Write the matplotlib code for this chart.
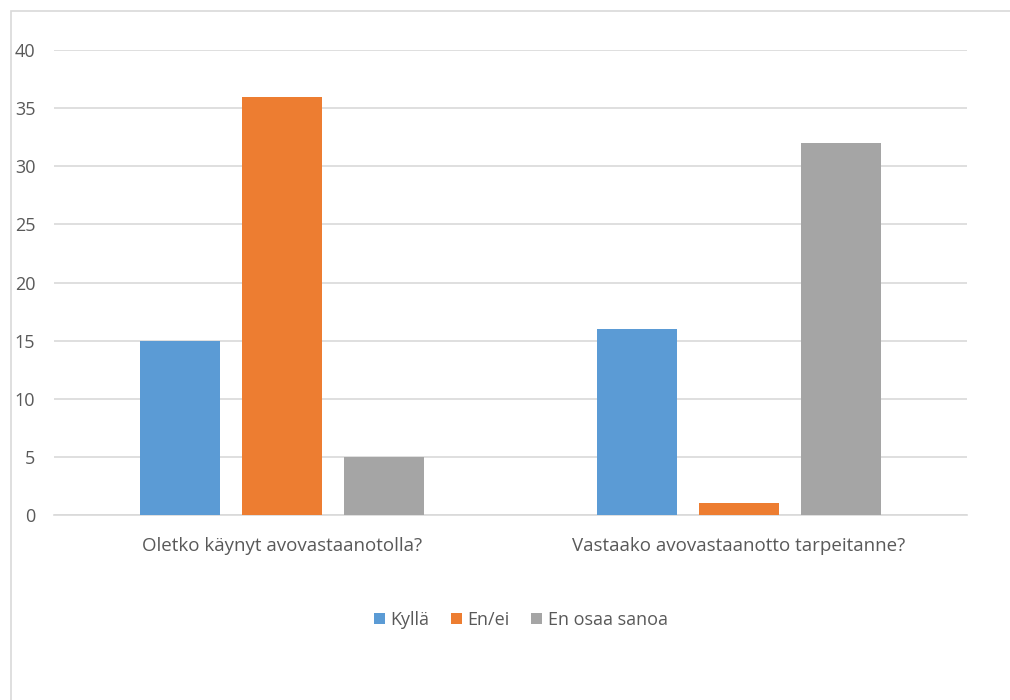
import matplotlib.pyplot as plt
import numpy as np
from matplotlib.patches import Rectangle

plt.rcParams['font.family'] = ['Open Sans', 'DejaVu Sans']

questions = ['Oletko käynyt avovastaanotolla?', 'Vastaako avovastaanotto tarpeitanne?']
answers = ['Kyllä', 'En/ei', 'En osaa sanoa']
counts = {
    'Kyllä': [15, 16],
    'En/ei': [36, 1],
    'En osaa sanoa': [5, 32],
}
colors = ['#5b9bd5', '#ed7d31', '#a5a5a5']
text_color = '#595959'
grid_color = '#d9d9d9'

fig = plt.figure(figsize=(10.1, 7), dpi=100)
ax = fig.add_axes([54 / 1010, 185 / 700, 913 / 1010, 465 / 700])

# chart frame, runs off the right and bottom edges
fig.patches.append(Rectangle((11 / 1010, -0.05), 1.1, (700 - 11) / 700 + 0.05,
                             transform=fig.transFigure, fill=False,
                             edgecolor=grid_color, linewidth=1.2))

x = np.arange(len(questions))
width = 0.175
offset = 0.2234
for i, (name, color) in enumerate(zip(answers, colors)):
    ax.bar(x + (i - 1) * offset, counts[name], width, color=color, label=name, zorder=3)

ax.set_xlim(-0.5, 1.5)
ax.set_ylim(0, 40)
ax.set_yticks(range(0, 41, 5))
ax.yaxis.grid(True, color=grid_color, linewidth=1.2, zorder=0)
ax.set_xticks(x)
ax.set_xticklabels(questions)
for side in ['top', 'right', 'left']:
    ax.spines[side].set_visible(False)
ax.spines['bottom'].set_color(grid_color)
ax.spines['bottom'].set_linewidth(1.2)
ax.tick_params(axis='y', length=0, colors=text_color, labelsize=13, pad=13.5)
ax.tick_params(axis='x', length=0, colors=text_color, labelsize=13.5, pad=16)

fig.legend(handles=ax.patches[::2], labels=answers, loc='center',
           bbox_to_anchor=(521 / 1010, 1 - 620 / 700), ncol=3, frameon=False,
           fontsize=13, labelcolor=text_color, handlelength=0.6, handleheight=0.6,
           handletextpad=0.3, columnspacing=1.2)

fig.savefig('out.png', dpi=100, facecolor='white')
